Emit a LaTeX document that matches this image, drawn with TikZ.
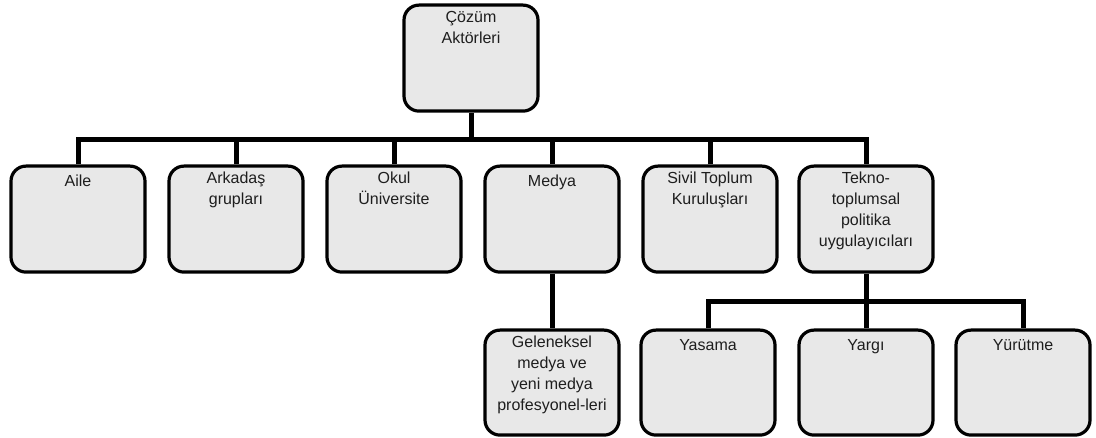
\documentclass[tikz,border=0pt]{standalone}
\usepackage{fontspec}
\setmainfont{Liberation Sans}
\definecolor{boxfill}{RGB}{232,232,232}
\definecolor{txt}{RGB}{30,30,30}
\begin{document}
\begin{tikzpicture}[x=1pt,y=-1pt,
  box/.style={draw=black, line width=3.2pt, fill=boxfill, rounded corners=15pt,
    rectangle, anchor=north, minimum width=134pt, minimum height=#1, inner sep=0pt},
  box/.default=106pt,
  lbl/.style={anchor=north, inner sep=0pt, align=center, text=txt,
    font=\fontsize{16}{21}\selectfont, yshift=-7.2pt,
    execute at begin node=\strut},
  conn/.style={draw=black, line width=5pt, line join=miter}]
\useasboundingbox (0,0) rectangle (1096,438);
% top
\node[box, label={[lbl]north:{Çözüm\\Aktörleri}}] (top) at (471,3.5) {};
% row 1
\node[box=106pt, label={[lbl]north:{Aile}}] (aile) at (78,164.5) {};
\node[box=106pt, label={[lbl]north:{Arkadaş\\grupları}}] (arkadas) at (236,164.5) {};
\node[box=106pt, label={[lbl]north:{Okul\\Üniversite}}] (okul) at (394,164.5) {};
\node[box=106pt, label={[lbl]north:{Medya}}] (medya) at (552,164.5) {};
\node[box=106pt, label={[lbl]north:{Sivil Toplum\\Kuruluşları}}] (sivil) at (710,164.5) {};
\node[box=106pt, label={[lbl]north:{Tekno-\\toplumsal\\politika\\uygulayıcıları}}] (tekno) at (866,164.5) {};
% row 2/3
\node[box=105pt, label={[lbl]north:{Geleneksel\\medya ve\\yeni medya\\profesyonel-leri}}] (gelen) at (552,328.5) {};
\node[box=105pt, label={[lbl]north:{Yasama}}] (yasama) at (708,328.5) {};
\node[box=105pt, label={[lbl]north:{Yargı}}] (yargi) at (866,328.5) {};
\node[box=105pt, label={[lbl]north:{Yürütme}}] (yurutme) at (1023,328.5) {};
% bars
\coordinate (bar1) at (471,140);
\coordinate (bar2) at (866,302);
% connectors
\draw[conn] (top.south) -- (bar1);
\draw[conn] (aile.north) -- (aile.north |- bar1) -- (tekno.north |- bar1) -- (tekno.north);
\draw[conn] (arkadas.north) -- (arkadas.north |- bar1);
\draw[conn] (okul.north) -- (okul.north |- bar1);
\draw[conn] (medya.north) -- (medya.north |- bar1);
\draw[conn] (sivil.north) -- (sivil.north |- bar1);
\draw[conn] (medya.south) -- (gelen.north);
\draw[conn] (tekno.south) -- (bar2);
\draw[conn] (yasama.north) -- (yasama.north |- bar2) -- (yurutme.north |- bar2) -- (yurutme.north);
\draw[conn] (yargi.north) -- (yargi.north |- bar2);
\end{tikzpicture}
\end{document}
